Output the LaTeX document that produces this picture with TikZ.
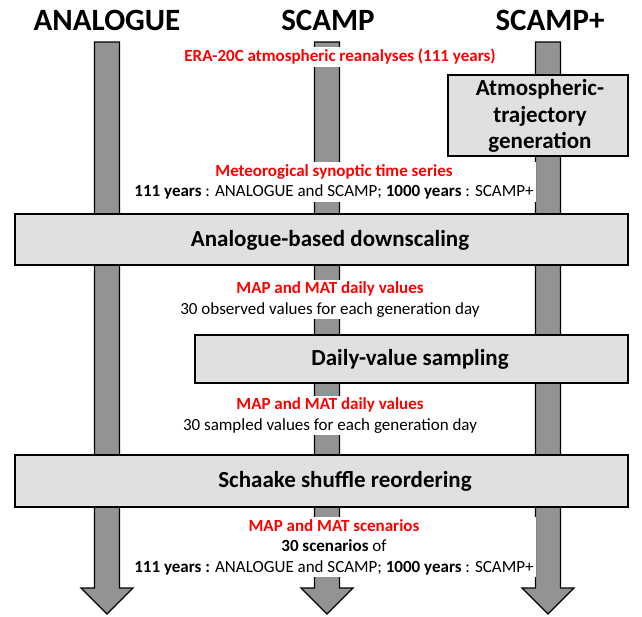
\documentclass[tikz,border=0pt]{standalone}
\usepackage{fontspec}
\setmainfont{Carlito}
\definecolor{arrowgray}{HTML}{939393}
\definecolor{boxgray}{HTML}{E0E0E0}
\definecolor{redtxt}{HTML}{FF0000}
\begin{document}
\begin{tikzpicture}[x=1pt,y=-1pt,
  coltitle/.style={font=\bfseries\fontsize{31}{34}\selectfont, inner sep=0pt},
  bigarrow/.style={fill=arrowgray,draw=black,line width=1.3pt,line join=miter},
  stepbox/.style={draw=black,line width=1.3pt,fill=boxgray,inner sep=0pt},
  steptext/.style={font=\bfseries\fontsize{23}{26.5}\selectfont,align=center,inner sep=0pt},
  lbl/.style={fill=white,inner sep=2pt,align=center,font=\fontsize{17}{20.5}\selectfont}
]
\useasboundingbox (0,0) rectangle (642,616);

% column titles
\node[coltitle] (tA) at (107,20) {ANALOGUE};
\node[coltitle] (tS) at (328,20) {SCAMP};
\node[coltitle] (tP) at (550,20) {SCAMP+};

% big arrows
\foreach \cx in {107,327,548}{
  \draw[bigarrow] (\cx-12.5,42) -- (\cx+12.5,42) -- (\cx+12.5,588) -- (\cx+26,588)
     -- (\cx,614) -- (\cx-26,588) -- (\cx-12.5,588) -- cycle;
}

% process boxes
\node[stepbox, minimum width=180, minimum height=81] (atg) at (538,115.5) {};
\node[steptext] (atgt) at (540,116) {Atmospheric-\\trajectory\\generation};

\node[stepbox, minimum width=613, minimum height=51] (ads) at (321.5,239.5) {};
\node[steptext] (adst) at (330,240) {Analogue-based downscaling};

\node[stepbox, minimum width=433, minimum height=48] (dvs) at (411.5,359) {};
\node[steptext] (dvst) at (410,359) {Daily-value sampling};

\node[stepbox, minimum width=613, minimum height=52] (ssr) at (321.5,481) {};
\node[steptext] (ssrt) at (345,481) {Schaake shuffle reordering};

% labels
\node[lbl] (era) at (340,57) {\textcolor{redtxt}{\bfseries ERA-20C atmospheric reanalyses (111 years)}};
\node[lbl] (meteo) at (334,182) {\textcolor{redtxt}{\bfseries Meteorogical synoptic time series}\\
  \textbf{111 years} : ANALOGUE and SCAMP; \textbf{1000 years} : SCAMP+};
\node[lbl] (obs) at (330,299.5) {\textcolor{redtxt}{\bfseries MAP and MAT daily values}\\
  30 observed values for each generation day};
\node[lbl] (samp) at (330,415.5) {\textcolor{redtxt}{\bfseries MAP and MAT daily values}\\
  30 sampled values for each generation day};
\node[lbl] (scen) at (334,547) {\textcolor{redtxt}{\bfseries MAP and MAT scenarios}\\
  \textbf{30 scenarios} of\\
  \textbf{111 years :} ANALOGUE and SCAMP; \textbf{1000 years} : SCAMP+};
\end{tikzpicture}
\end{document}
